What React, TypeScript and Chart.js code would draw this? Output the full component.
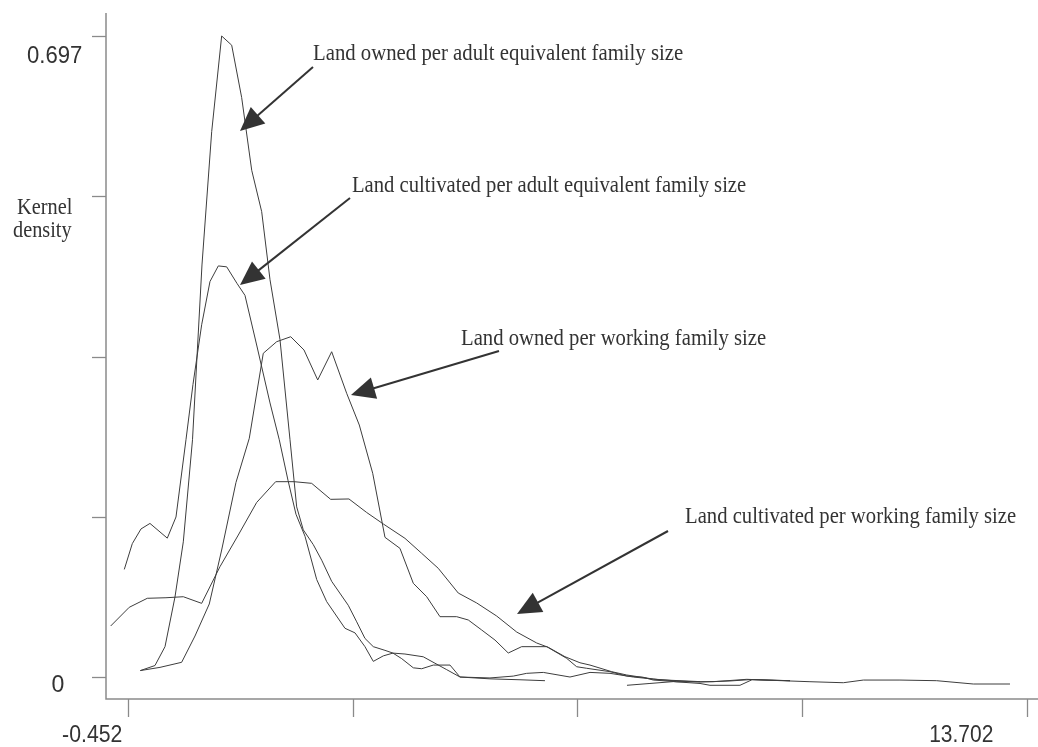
import React, { useEffect, useRef } from "react";
import { Chart, registerables } from "chart.js";

Chart.register(...registerables);

// ---- Data ----
const ownedAdultX = [-0.258, -0.027, 0.131, 0.288, 0.419, 0.564, 0.713, 0.866, 1.023, 1.181, 1.338, 1.496, 1.653, 1.784, 1.941, 2.099, 2.204, 2.308, 2.465, 2.598, 2.755, 3.016, 3.149, 3.279, 3.41, 3.594, 3.72, 3.857, 4.04, 4.172, 4.355, 4.618, 4.775, 5.247, 5.614, 5.825, 6.087, 6.507, 6.822, 7.137, 7.504, 7.924, 8.554];
const ownedAdultY = [0.007, 0.0125, 0.033, 0.087, 0.147, 0.258, 0.448, 0.593, 0.697, 0.687, 0.63, 0.551, 0.506, 0.432, 0.367, 0.258, 0.185, 0.16, 0.144, 0.127, 0.104, 0.078, 0.06, 0.042, 0.033, 0.029, 0.026, 0.02, 0.01, 0.009, 0.013, 0.013, 0.0, -0.001, 0.001, 0.004, 0.005, 0.0, 0.005, 0.004, 0.0, -0.003, -0.005];

const cultAdultX = [-0.51, -0.384, -0.247, -0.106, 0.167, 0.304, 0.461, 0.571, 0.708, 0.839, 0.97, 1.102, 1.264, 1.39, 1.574, 1.784, 1.93, 2.067, 2.193, 2.335, 2.519, 2.676, 2.964, 3.122, 3.279, 3.41, 3.568, 3.72, 3.909, 4.197, 4.381, 4.566, 4.775, 5.247, 5.72, 6.113, 6.75, 7.404, 7.766, 8.133, 8.554, 8.711, 9.183, 9.372, 9.971];
const cultAdultY = [0.117, 0.145, 0.161, 0.167, 0.151, 0.174, 0.258, 0.318, 0.383, 0.43, 0.447, 0.446, 0.428, 0.415, 0.361, 0.298, 0.258, 0.214, 0.177, 0.153, 0.106, 0.082, 0.053, 0.048, 0.033, 0.017, 0.023, 0.026, 0.025, 0.022, 0.015, 0.008, 0.0, -0.002, -0.003, -0.004, null, -0.009, -0.007, -0.005, -0.007, -0.009, -0.009, -0.003, -0.004];

const ownedWorkX = [-0.258, 0.052, 0.393, 0.603, 0.828, 1.023, 1.248, 1.458, 1.678, 1.889, 2.11, 2.319, 2.535, 2.755, 2.991, 3.19, 3.401, 3.594, 3.83, 4.04, 4.251, 4.46, 4.723, 4.906, 5.117, 5.326, 5.535, 5.746, 6.14, 6.455, 6.612, 6.77, 7.137, 7.4, 7.661, 7.818, 8.187, 8.763, 9.289, 9.84, 10.285, 10.81, 11.125, 11.702, 12.28, 12.856, 13.434];
const ownedWorkY = [0.007, 0.0105, 0.016, 0.0446, 0.0794, 0.1381, 0.2115, 0.2596, 0.352, 0.3646, 0.37, 0.3556, 0.323, 0.3537, 0.3085, 0.274, 0.2215, 0.1519, 0.1399, 0.1019, 0.0873, 0.0656, 0.0656, 0.062, 0.0511, 0.0402, 0.0261, 0.033, 0.033, 0.0203, 0.0112, 0.0095, 0.0058, 0.0011, -0.0003, -0.0033, -0.0051, -0.0051, -0.0025, -0.004, -0.0051, -0.0062, -0.0033, -0.0033, -0.004, -0.0076, -0.0076];

const cultWorkX = [-0.724, -0.432, -0.148, 0.146, 0.419, 0.708, 0.996, 1.285, 1.574, 1.873, 2.162, 2.44, 2.739, 3.027, 3.306, 3.568, 3.909, 4.172, 4.433, 4.748, 5.038, 5.353, 5.668, 5.983, 6.165, 6.428, 6.664, 6.822, 7.163, 7.4, 7.818, 8.187, 8.554, 9.026, 9.372, 9.971];
const cultWorkY = [0.0555, 0.0758, 0.0856, 0.0862, 0.0873, 0.0801, 0.1199, 0.1544, 0.1898, 0.2124, 0.2124, 0.2106, 0.1932, 0.1936, 0.1789, 0.1664, 0.1508, 0.1345, 0.1182, 0.0913, 0.0805, 0.0663, 0.0489, 0.037, 0.0323, 0.0221, 0.0155, 0.013, 0.0058, 0.0022, -0.0022, -0.0043, -0.0054, -0.0043, -0.0027, -0.004];

const yTickValues = [0, 0.17425, 0.3485, 0.52275, 0.697];
const yTickLabels = ["0", "", "", "", "0.697"];
const xTickValues = [-0.452, 3.0865, 6.625, 10.1635, 13.702];
const xTickLabels = ["-0.452", "", "", "", "13.702"];

const seriesNames = [
  "Land owned per adult equivalent family size",
  "Land cultivated per adult equivalent family size",
  "Land owned per working family size",
  "Land cultivated per working family size",
];

// ---- Layout / style (pixels) ----
const W = 1038;
const H = 747;
const LINE = "#3d3d3d";
const TEXT = "#333333";
const AXIS = "#8a8a8a";
const SERIF = '"Liberation Serif", "Times New Roman", serif';
const SANS = '"Liberation Sans", Arial, sans-serif';

const notes = [
  { left: 313, right: 683, base: 59.5, tail: [313, 67], tip: [240, 131] },
  { left: 352, right: 746, base: 192, tail: [350, 198], tip: [240, 285] },
  { left: 461, right: 766, base: 345, tail: [499, 351], tip: [351, 395] },
  { left: 685, right: 1016, base: 523, tail: [668, 531], tip: [517, 614] },
];

const yLabelBoxes = [
  { right: 64, width: 12.5, base: 692 },
  null,
  null,
  null,
  { right: 82, width: 55, base: 63 },
];
const xLabelBoxes = [
  { right: 122, width: 59, base: 742 },
  null,
  null,
  null,
  { right: 993, width: 63, base: 742 },
];

function pts(xs: number[], ys: (number | null)[]) {
  return xs.map((x, i) => ({ x, y: ys[i] }));
}

function fitText(
  ctx: CanvasRenderingContext2D,
  text: string,
  left: number,
  base: number,
  width: number,
  font: string
) {
  ctx.save();
  ctx.font = font;
  ctx.textAlign = "left";
  ctx.textBaseline = "alphabetic";
  const m = ctx.measureText(text);
  const ink = m.actualBoundingBoxLeft + m.actualBoundingBoxRight;
  const sx = width / ink;
  ctx.translate(left, base);
  ctx.scale(sx, 1);
  ctx.fillText(text, m.actualBoundingBoxLeft, 0);
  ctx.restore();
}

function arrow(ctx: CanvasRenderingContext2D, tail: number[], tip: number[]) {
  const dx = tip[0] - tail[0];
  const dy = tip[1] - tail[1];
  const len = Math.hypot(dx, dy);
  const ux = dx / len;
  const uy = dy / len;
  const L = 24;
  const hw = 11;
  const bx = tip[0] - ux * L;
  const by = tip[1] - uy * L;
  ctx.save();
  ctx.strokeStyle = TEXT;
  ctx.fillStyle = TEXT;
  ctx.lineWidth = 2;
  ctx.beginPath();
  ctx.moveTo(tail[0], tail[1]);
  ctx.lineTo(bx + ux * 2, by + uy * 2);
  ctx.stroke();
  ctx.beginPath();
  ctx.moveTo(tip[0], tip[1]);
  ctx.lineTo(bx - uy * hw, by + ux * hw);
  ctx.lineTo(bx + uy * hw, by - ux * hw);
  ctx.closePath();
  ctx.fill();
  ctx.restore();
}

const decorPlugin = {
  id: "decor",
  afterDraw(chart: any) {
    const ctx: CanvasRenderingContext2D = chart.ctx;
    const xs = chart.scales.x;
    const ys = chart.scales.y;
    const area = chart.chartArea;
    ctx.save();
    // axes
    ctx.strokeStyle = AXIS;
    ctx.lineWidth = 1.5;
    ctx.beginPath();
    ctx.moveTo(area.left, area.top);
    ctx.lineTo(area.left, area.bottom);
    ctx.lineTo(area.right, area.bottom);
    ctx.stroke();
    ctx.lineWidth = 1.3;
    yTickValues.forEach((v) => {
      const py = Math.round(ys.getPixelForValue(v)) + 0.5;
      ctx.beginPath();
      ctx.moveTo(area.left - 14, py);
      ctx.lineTo(area.left, py);
      ctx.stroke();
    });
    xTickValues.forEach((v) => {
      const px = Math.round(xs.getPixelForValue(v)) + 0.5;
      ctx.beginPath();
      ctx.moveTo(px, area.bottom);
      ctx.lineTo(px, area.bottom + 18);
      ctx.stroke();
    });
    // tick labels
    ctx.fillStyle = TEXT;
    yTickLabels.forEach((t, i) => {
      const b = yLabelBoxes[i];
      if (t && b) fitText(ctx, t, b.right - b.width, b.base, b.width, `24px ${SANS}`);
    });
    xTickLabels.forEach((t, i) => {
      const b = xLabelBoxes[i];
      if (t && b) fitText(ctx, t, b.right - b.width, b.base, b.width, `24px ${SANS}`);
    });
    // axis title
    fitText(ctx, "Kernel", 17, 213.5, 55, `23px ${SERIF}`);
    fitText(ctx, "density", 13, 236.5, 59, `23px ${SERIF}`);
    // annotations
    seriesNames.forEach((name, i) => {
      const n = notes[i];
      fitText(ctx, name, n.left, n.base, n.right - n.left, `23px ${SERIF}`);
      arrow(ctx, n.tail, n.tip);
    });
    ctx.restore();
  },
};

export default function App() {
  const ref = useRef<HTMLCanvasElement | null>(null);
  useEffect(() => {
    if (!ref.current) return;
    const common = {
      borderColor: LINE,
      borderWidth: 1,
      pointRadius: 0,
      tension: 0,
      spanGaps: false,
      fill: false,
    };
    const chart = new Chart(ref.current, {
      type: "line",
      data: {
        datasets: [
          { label: seriesNames[0], data: pts(ownedAdultX, ownedAdultY), ...common },
          { label: seriesNames[1], data: pts(cultAdultX, cultAdultY), ...common },
          { label: seriesNames[2], data: pts(ownedWorkX, ownedWorkY), ...common },
          { label: seriesNames[3], data: pts(cultWorkX, cultWorkY), ...common },
        ],
      },
      options: {
        responsive: false,
        animation: false,
        devicePixelRatio: 1,
        parsing: true,
        layout: { padding: { left: 106, right: 0, top: 13, bottom: 48 } },
        plugins: {
          legend: { display: false },
          tooltip: { enabled: false },
        },
        scales: {
          x: { type: "linear", min: -0.798, max: 13.875, display: false },
          y: { type: "linear", min: -0.0239, max: 0.722, display: false },
        },
      } as any,
      plugins: [decorPlugin],
    });
    return () => chart.destroy();
  }, []);
  return (
    <div style={{ position: "fixed", left: 0, top: 0, width: W, height: H, background: "#fff" }}>
      <canvas ref={ref} width={W} height={H} style={{ width: W, height: H, display: "block" }} />
    </div>
  );
}
